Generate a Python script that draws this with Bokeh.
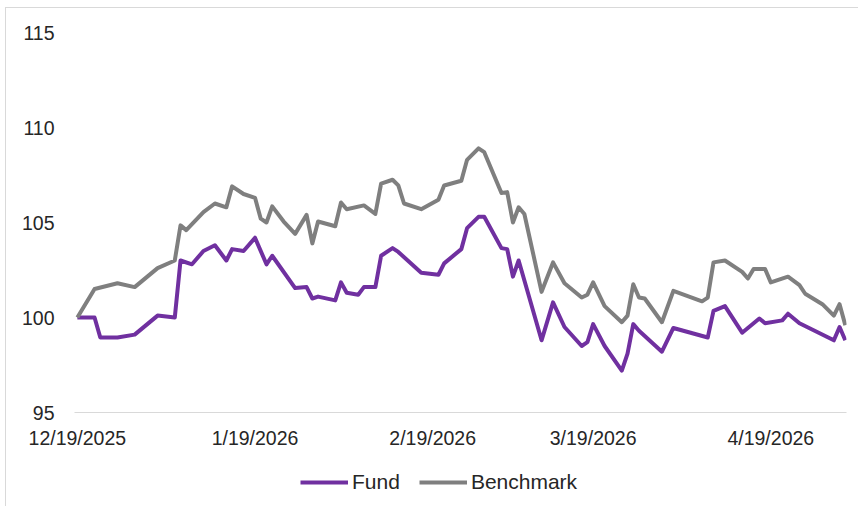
import pandas as pd
from bokeh.plotting import figure
from bokeh.layouts import column
from bokeh.models import Range1d, FixedTicker, Legend, LegendItem
from bokeh.embed import file_html
from bokeh.resources import INLINE

# ---------------- data ----------------
fund_dates = ["2025-12-19", "2025-12-22", "2025-12-23", "2025-12-26", "2025-12-29", "2026-01-02",
              "2026-01-05", "2026-01-06", "2026-01-08", "2026-01-10", "2026-01-12", "2026-01-14",
              "2026-01-15", "2026-01-17", "2026-01-19", "2026-01-21", "2026-01-22", "2026-01-26",
              "2026-01-28", "2026-01-29", "2026-01-30", "2026-02-02", "2026-02-03", "2026-02-04",
              "2026-02-06", "2026-02-07", "2026-02-09", "2026-02-10", "2026-02-12", "2026-02-13",
              "2026-02-17", "2026-02-20", "2026-02-21", "2026-02-24", "2026-02-25", "2026-02-27",
              "2026-02-28", "2026-03-03", "2026-03-04", "2026-03-05", "2026-03-06", "2026-03-10",
              "2026-03-12", "2026-03-14", "2026-03-17", "2026-03-18", "2026-03-19", "2026-03-21",
              "2026-03-24", "2026-03-25", "2026-03-26", "2026-03-27", "2026-03-31", "2026-04-02",
              "2026-04-08", "2026-04-09", "2026-04-11", "2026-04-14", "2026-04-17", "2026-04-18",
              "2026-04-21", "2026-04-22", "2026-04-24", "2026-04-30", "2026-05-01", "2026-05-02"]
fund_values = [100.0, 100.0, 98.95, 98.95, 99.1, 100.1,
               100.0, 103.0, 102.8, 103.5, 103.8, 103.0,
               103.6, 103.5, 104.2, 102.8, 103.25, 101.55,
               101.6, 101.0, 101.1, 100.9, 101.85, 101.3,
               101.2, 101.6, 101.6, 103.25, 103.65, 103.45,
               102.35, 102.25, 102.85, 103.6, 104.7, 105.3,
               105.3, 103.65, 103.6, 102.15, 103.0, 98.8,
               100.8, 99.5, 98.5, 98.7, 99.65, 98.5,
               97.2, 98.1, 99.65, 99.3, 98.2, 99.45,
               98.95, 100.35, 100.6, 99.2, 99.95, 99.7,
               99.85, 100.2, 99.7, 98.8, 99.5, 98.8]

bench_dates = ["2025-12-19", "2025-12-22", "2025-12-26", "2025-12-29", "2026-01-02", "2026-01-05",
               "2026-01-06", "2026-01-07", "2026-01-10", "2026-01-12", "2026-01-14", "2026-01-15",
               "2026-01-17", "2026-01-19", "2026-01-20", "2026-01-21", "2026-01-22", "2026-01-24",
               "2026-01-26", "2026-01-28", "2026-01-29", "2026-01-30", "2026-02-02", "2026-02-03",
               "2026-02-04", "2026-02-07", "2026-02-09", "2026-02-10", "2026-02-12", "2026-02-13",
               "2026-02-14", "2026-02-17", "2026-02-20", "2026-02-21", "2026-02-24", "2026-02-25",
               "2026-02-27", "2026-02-28", "2026-03-03", "2026-03-04", "2026-03-05", "2026-03-06",
               "2026-03-07", "2026-03-10", "2026-03-12", "2026-03-14", "2026-03-17", "2026-03-18",
               "2026-03-19", "2026-03-21", "2026-03-24", "2026-03-25", "2026-03-26", "2026-03-27",
               "2026-03-28", "2026-03-31", "2026-04-02", "2026-04-07", "2026-04-08", "2026-04-09",
               "2026-04-11", "2026-04-14", "2026-04-15", "2026-04-16", "2026-04-18", "2026-04-19",
               "2026-04-22", "2026-04-24", "2026-04-25", "2026-04-28", "2026-04-30", "2026-05-01",
               "2026-05-02"]
bench_values = [100.0, 101.5, 101.8, 101.6, 102.6, 103.0,
                104.85, 104.6, 105.55, 106.0, 105.8, 106.9,
                106.5, 106.3, 105.2, 105.0, 105.85, 105.05,
                104.4, 105.4, 103.9, 105.05, 104.8, 106.05,
                105.7, 105.9, 105.45, 107.05, 107.25, 106.95,
                106.0, 105.7, 106.2, 106.95, 107.2, 108.3,
                108.9, 108.7, 106.55, 106.6, 105.0, 105.8,
                105.45, 101.35, 102.9, 101.8, 101.05, 101.2,
                101.85, 100.6, 99.75, 100.1, 101.75, 101.05,
                101.0, 99.75, 101.4, 100.85, 101.05, 102.9,
                103.0, 102.4, 102.05, 102.55, 102.55, 101.85,
                102.15, 101.7, 101.25, 100.7, 100.1, 100.7,
                99.6]

y_ticks = [95, 100, 105, 110, 115]
x_tick_dates = ["2025-12-19", "2026-01-19", "2026-02-19", "2026-03-19", "2026-04-19"]
x_tick_labels = ["12/19/2025", "1/19/2026", "2/19/2026", "3/19/2026", "4/19/2026"]
series_names = ["Fund", "Benchmark"]
series_colors = ["#7030A0", "#7F7F7F"]

# ---------------- main figure ----------------
FONT = "Liberation Sans"
TXT = "#262626"
W = 852

fund_x = pd.to_datetime(fund_dates)
bench_x = pd.to_datetime(bench_dates)
x_start = pd.Timestamp(fund_dates[0]) - pd.Timedelta(hours=12)
x_end = pd.Timestamp(fund_dates[-1]) + pd.Timedelta(hours=5)

p = figure(width=W, height=452, x_axis_type="datetime",
           x_range=Range1d(x_start, x_end), y_range=Range1d(y_ticks[0], y_ticks[-1]),
           output_backend="svg", toolbar_location=None,
           min_border_left=68, min_border_right=12, min_border_top=24, min_border_bottom=48)
p.outline_line_color = None
p.background_fill_color = "white"
p.border_fill_color = "white"
p.xgrid.visible = False
p.ygrid.visible = False

p.line(fund_x, fund_values, line_color=series_colors[0], line_width=4, line_join="round")
p.line(bench_x, bench_values, line_color=series_colors[1], line_width=4, line_join="round")

# y axis
p.yaxis.ticker = FixedTicker(ticks=y_ticks)
p.yaxis.axis_line_color = None
p.yaxis.major_tick_line_color = None
p.yaxis.minor_tick_line_color = None
p.yaxis.major_label_standoff = 14
p.yaxis.major_label_text_font = FONT
p.yaxis.major_label_text_font_size = "19.5px"
p.yaxis.major_label_text_color = TXT

# x axis
tick_ms = [int(pd.Timestamp(d).value // 10**6) for d in x_tick_dates]
p.xaxis.ticker = FixedTicker(ticks=tick_ms)
p.xaxis.major_label_overrides = {t: lab for t, lab in zip(tick_ms, x_tick_labels)}
p.xaxis.axis_line_color = "#D9D9D9"
p.xaxis.axis_line_width = 1
p.xaxis.major_tick_line_color = None
p.xaxis.minor_tick_line_color = None
p.xaxis.major_label_standoff = 8
p.xaxis.major_label_text_font = FONT
p.xaxis.major_label_text_font_size = "19.5px"
p.xaxis.major_label_text_color = TXT

# ---------------- legend strip ----------------
lg = figure(width=W, height=46, x_range=Range1d(0, 1), y_range=Range1d(0, 1),
            output_backend="svg", toolbar_location=None,
            x_axis_location=None, y_axis_location=None,
            min_border=0)
lg.outline_line_color = None
lg.xgrid.visible = False
lg.ygrid.visible = False
# same series, drawn off-range in the strip (clipped) so only the legend keys show
l_fund = lg.line(fund_x, fund_values, line_color=series_colors[0], line_width=4)
l_bench = lg.line(bench_x, bench_values, line_color=series_colors[1], line_width=4)

legend = Legend(items=[LegendItem(label=series_names[0], renderers=[l_fund]),
                       LegendItem(label=series_names[1], renderers=[l_bench])],
                orientation="horizontal", location=(226, 12))
legend.label_text_font = FONT
legend.label_text_font_size = "21px"
legend.label_text_color = TXT
legend.glyph_width = 48
legend.glyph_height = 20
legend.label_standoff = 4
legend.spacing = 19
legend.padding = 0
legend.margin = 0
legend.border_line_color = None
legend.background_fill_alpha = 0
lg.add_layout(legend, "center")

layout = column(p, lg, spacing=0,
                styles={"margin-left": "5px", "margin-top": "7px",
                        "border-left": "1px solid #d9d9d9", "border-top": "1px solid #d9d9d9"})

open("out.html", "w").write(file_html(layout, INLINE))
